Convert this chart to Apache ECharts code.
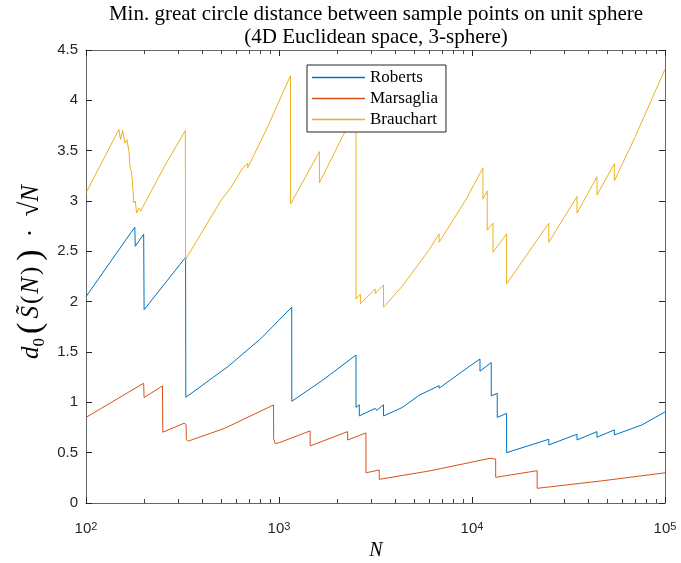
<!DOCTYPE html>
<html><head><meta charset="utf-8">
<script src="https://cdn.jsdelivr.net/npm/echarts@6/dist/echarts.min.js"></script>
<style>html,body{margin:0;padding:0;background:#fff}#c{width:681px;height:563px}</style>
</head><body><div id="c"></div>
<script>
// ---- data ----
const seriesNames = ['Roberts', 'Marsaglia', 'Brauchart'];

const robertsN = [100, 179, 180, 199, 200, 328, 329, 544, 809, 1164, 1165, 1684, 2506, 2507, 2606, 2607, 3153, 3203, 3480, 3481, 4364, 5322, 6753, 6754, 9650, 10999, 11000, 12583, 12584, 13512, 13513, 15112, 15113, 25000, 25001, 35000, 35001, 44400, 44401, 54640, 54641, 75860, 100000];
const robertsV = [2.05, 2.74, 2.55, 2.67, 1.92, 2.44, 1.05, 1.355, 1.637, 1.945, 1.01, 1.22, 1.47, 0.95, 0.975, 0.865, 0.94, 0.92, 0.975, 0.865, 0.95, 1.07, 1.166, 1.14, 1.355, 1.43, 1.31, 1.395, 1.064, 1.09, 0.85, 0.89, 0.50, 0.633, 0.577, 0.683, 0.626, 0.709, 0.653, 0.726, 0.676, 0.775, 0.905];

const marsagliaN = [100, 199, 200, 249, 250, 322, 323, 330, 331, 338, 339, 523, 528, 529, 937, 938, 955, 956, 1006, 1449, 1450, 2267, 2268, 2822, 2823, 3306, 3307, 5996, 9650, 12388, 12389, 13264, 13265, 21752, 21753, 47110, 100000];
const marsagliaV = [0.85, 1.19, 1.047, 1.163, 0.703, 0.792, 0.775, 0.78, 0.63, 0.64, 0.615, 0.742, 0.75, 0.74, 0.974, 0.64, 0.645, 0.59, 0.60, 0.716, 0.567, 0.709, 0.626, 0.696, 0.30, 0.328, 0.235, 0.318, 0.40, 0.444, 0.427, 0.437, 0.255, 0.321, 0.146, 0.22, 0.30];

const brauchartN = [100, 148, 151, 155, 159, 163, 167, 169, 172, 174, 177, 180, 183, 188, 192, 256, 327, 328, 502, 566, 650, 688, 689, 875, 1147, 1148, 1619, 1620, 2225, 2506, 2507, 2640, 2641, 3153, 3154, 3480, 3481, 4364, 5996, 6753, 6754, 9277, 11400, 11401, 11995, 11996, 12842, 12843, 15112, 15113, 25000, 25001, 35000, 35001, 44400, 44401, 54640, 54641, 70150, 100000];
const brauchartV = [3.08, 3.71, 3.61, 3.70, 3.575, 3.61, 3.49, 3.34, 3.29, 3.19, 2.98, 3.0, 2.88, 2.93, 2.90, 3.35, 3.70, 2.42, 3.01, 3.14, 3.33, 3.375, 3.33, 3.74, 4.245, 2.97, 3.49, 3.18, 3.71, 3.93, 2.025, 2.075, 1.98, 2.125, 2.08, 2.167, 1.945, 2.157, 2.515, 2.674, 2.59, 3.01, 3.33, 3.02, 3.10, 2.71, 2.78, 2.49, 2.674, 2.177, 2.78, 2.59, 3.045, 2.88, 3.24, 3.06, 3.37, 3.20, 3.64, 4.31];

const xMajorTicks = [100, 1000, 10000, 100000];
const xMinorTicks = [200, 300, 400, 500, 600, 700, 800, 900, 2000, 3000, 4000, 5000, 6000, 7000, 8000, 9000, 20000, 30000, 40000, 50000, 60000, 70000, 80000, 90000];
const yMin = 0, yMax = 4.5, yStep = 0.5;

const titleLines = ['Min. great circle distance between sample points on unit sphere', '(4D Euclidean space, 3-sphere)'];
const colors = ['#0072BD', '#D95319', '#EDB120'];

// ---- chart ----
const zip = (a, b) => a.map((v, i) => [v, b[i]]);
const AX = '#666';
const TXT = '#262626';
const G = { left: 86, right: 16, top: 50, bottom: 60 };

const xBase = (pos, show) => ({
  type: 'log', logBase: 10, min: xMajorTicks[0], max: xMajorTicks[xMajorTicks.length - 1],
  position: pos, splitNumber: 3,
  axisLine: { show: true, onZero: false, lineStyle: { color: AX, width: 1 } },
  axisTick: { show: true, inside: true, length: 6, lineStyle: { color: TXT } },
  splitLine: { show: false }, minorTick: { show: false },
  axisLabel: {
    show: show, margin: 18,
    formatter: v => '{b|10}{s|' + Math.round(Math.log10(v)) + '}',
    rich: {
      b: { fontFamily: 'Liberation Sans', fontSize: 15, color: TXT, verticalAlign: 'bottom', lineHeight: 15 },
      s: { fontFamily: 'Liberation Sans', fontSize: 11, color: TXT, verticalAlign: 'top', lineHeight: 11, padding: [0, 0, 9, 0] }
    }
  }
});
const yBase = (pos, show) => ({
  type: 'value', min: yMin, max: yMax, interval: yStep, position: pos,
  axisLine: { show: true, onZero: false, lineStyle: { color: AX, width: 1 } },
  axisTick: { show: true, inside: true, length: 6, lineStyle: { color: TXT } },
  splitLine: { show: false },
  axisLabel: { show: show, margin: 8, fontFamily: 'Liberation Sans', fontSize: 15, color: TXT }
});

const lineSeries = (name, N, V, c) => ({
  name, type: 'line', data: zip(N, V), showSymbol: false, symbol: 'none',
  lineStyle: { color: c, width: 1 }, itemStyle: { color: c }, z: 2, animation: false
});

// minor log ticks (bottom and top), placed through the axis scale
const minorTickSeries = {
  type: 'custom', silent: true, clip: false, z: 5, animation: false,
  data: xMinorTicks.map(v => [v, yMin]),
  encode: { x: 0, y: 1 },
  renderItem: (params, api) => {
    const v = api.value(0);
    const b = api.coord([v, yMin]);
    const t = api.coord([v, yMax]);
    const xb = Math.round(b[0]) + 0.5;
    return {
      type: 'group', children: [
        { type: 'line', shape: { x1: xb, y1: b[1], x2: xb, y2: b[1] - 4 }, style: { stroke: '#444', lineWidth: 1 } },
        { type: 'line', shape: { x1: xb, y1: t[1], x2: xb, y2: t[1] + 4 }, style: { stroke: '#444', lineWidth: 1 } }
      ]
    };
  }
};

const chart = echarts.init(document.getElementById('c'), null, { renderer: 'canvas' });
chart.setOption({
  backgroundColor: '#fff',
  animation: false,
  grid: G,
  xAxis: [xBase('bottom', true), xBase('top', false)],
  yAxis: [yBase('left', true), yBase('right', false)],
  legend: {
    data: seriesNames, orient: 'vertical', left: 307, top: 65,
    icon: 'rect', itemWidth: 53, itemHeight: 1.5, itemGap: 2,
    padding: [3, 8, 3, 5],
    borderColor: TXT, borderWidth: 1, backgroundColor: '#fff',
    textStyle: { fontFamily: 'Liberation Serif', fontSize: 17, color: '#000', lineHeight: 19 },
    selectedMode: false
  },
  series: [
    lineSeries(seriesNames[0], robertsN, robertsV, colors[0]),
    lineSeries(seriesNames[1], marsagliaN, marsagliaV, colors[1]),
    lineSeries(seriesNames[2], brauchartN, brauchartV, colors[2]),
    minorTickSeries
  ],
  graphic: [
    { type: 'text', x: 376, y: 14, style: { text: titleLines[0], font: '21px "Liberation Serif"', fill: '#000', align: 'center', verticalAlign: 'middle' } },
    { type: 'text', x: 376, y: 37, style: { text: titleLines[1], font: '21px "Liberation Serif"', fill: '#000', align: 'center', verticalAlign: 'middle' } },
    { type: 'text', x: 376, y: 551, style: { text: 'N', font: 'italic 20px "Liberation Serif"', fill: '#000', align: 'center', verticalAlign: 'middle' } },
    {
      type: 'text', x: 31, y: 272, rotation: Math.PI / 2,
      style: {
        text: '{i|d}{sub|0}{p|(}{i|S\u0303}{n|(}{i|N}{n|)}{p|)}{n| \u00b7 }{r|\u221a}{i|N}',
        align: 'center', verticalAlign: 'middle',
        rich: {
          i: { font: 'italic 25px "Liberation Serif"', fill: '#000', verticalAlign: 'middle' },
          n: { font: '25px "Liberation Serif"', fill: '#000', verticalAlign: 'middle', padding: [0, 2, 0, 2] },
          r: { font: '27px "Liberation Serif"', fill: '#000', verticalAlign: 'middle', padding: [0, 0, 0, 4] },
          p: { font: '34px "Liberation Serif"', fill: '#000', verticalAlign: 'middle', padding: [0, 4, 0, 4] },
          sub: { font: '17px "Liberation Serif"', fill: '#000', verticalAlign: 'bottom', padding: [9, 0, 0, 0] }
        }
      }
    }
  ]
});
</script>
</body></html>
